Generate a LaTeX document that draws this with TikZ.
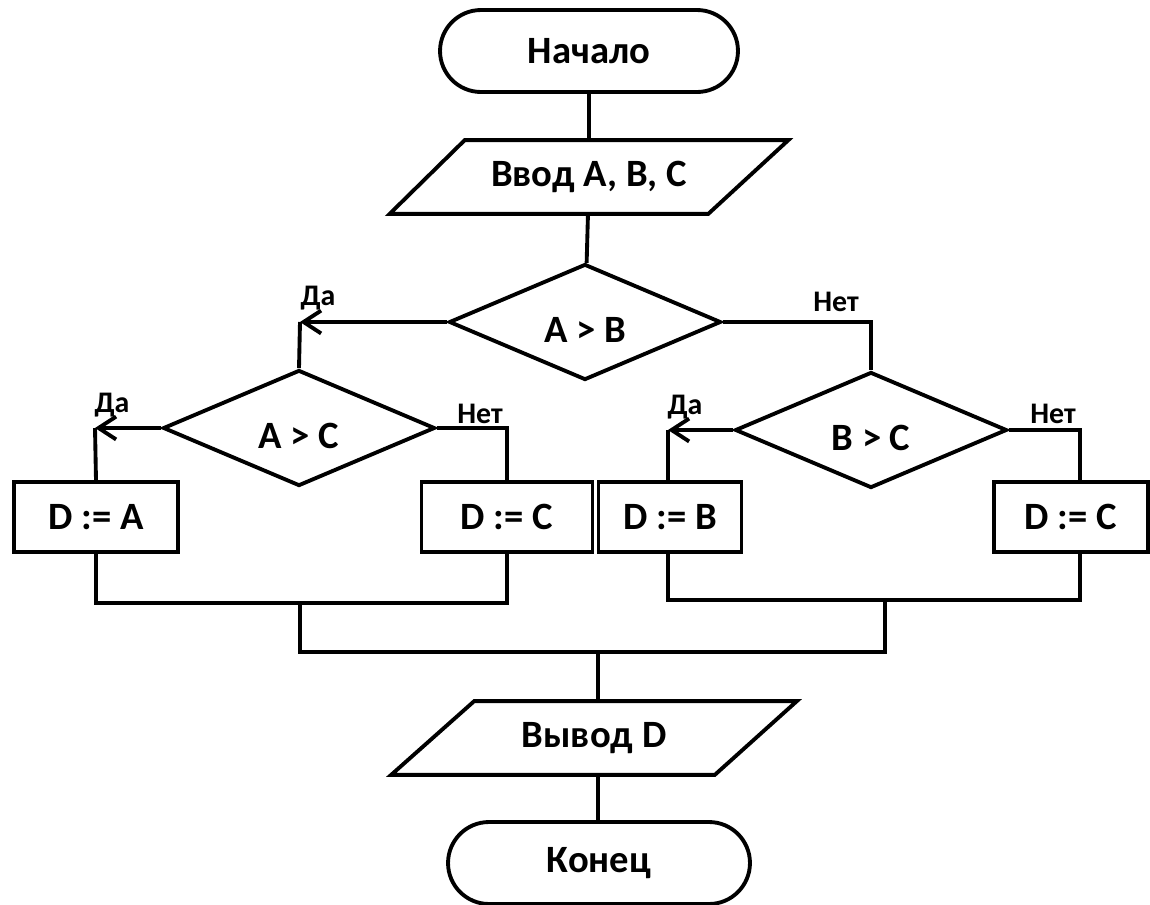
\documentclass[tikz,border=0pt]{standalone}
\usepackage{fontspec}
\setmainfont{Carlito}
\usepackage{tikz}
\usetikzlibrary{shapes.geometric,shapes.misc,arrows.meta,positioning}

\tikzset{
  flowline/.style={line width=2.2pt},
  yesline/.style={flowline,-{Straight Barb[length=10pt,width=13pt,line width=2.2pt]}},
  terminal/.style={draw,flowline,rounded rectangle,minimum width=5.96cm,minimum height=1.64cm,inner sep=0pt,font=\fontsize{22}{26}\bfseries},
  iobox/.style={rectangle,minimum height=1.46cm,inner sep=0pt,font=\fontsize{22}{26}\bfseries},
  decision/.style={draw,flowline,diamond,aspect=2.3,minimum width=5.44cm,minimum height=2.32cm,inner sep=0pt,text height=0.8cm,text depth=0pt,font=\fontsize{22}{26}\bfseries},
  process/.style={draw,flowline,rectangle,minimum height=1.4cm,inner sep=0pt,font=\fontsize{22}{26}\bfseries},
  branchlabel/.style={font=\fontsize{17}{19}\bfseries,inner sep=0pt}
}

\begin{document}
\begin{tikzpicture}[x=0.02cm,y=-0.02cm]
  \useasboundingbox (0,0) rectangle (1150,904);

  % Start and input
  \node[terminal] (start) at (589,51) {Начало};
  \node[iobox,minimum width=7.96cm] (input) at (589,177) {Ввод A, B, C};
  \draw[flowline,line join=miter] ([xshift=1.5cm]input.north west) -- (input.north east)
    -- ([xshift=-1.6cm]input.south east) -- (input.south west) -- cycle;

  % Decisions
  \node[decision] (cmpAB) at (585,322) {A > B};
  \node[decision] (cmpAC) at (299,428) {A > C};
  \node[decision] (cmpBC) at (871,430) {B > C};

  % Assignments
  \node[process,minimum width=3.28cm] (setA) at (96,517) {D := A};
  \node[process,minimum width=3.42cm] (setCleft) at (507,517) {D := C};
  \node[process,minimum width=2.86cm] (setB) at (670,517) {D := B};
  \node[process,minimum width=3.08cm] (setCright) at (1071,517) {D := C};

  % Output and end
  \node[iobox,minimum width=8.1cm] (output) at (594,738) {Вывод D};
  \draw[flowline,line join=miter] ([xshift=1.66cm]output.north west) -- (output.north east)
    -- ([xshift=-1.64cm]output.south east) -- (output.south west) -- cycle;
  \node[terminal,minimum width=6.04cm] (stop) at (599,863) {Конец};

  % Branch corners
  \coordinate (yesAB) at (300,322);
  \coordinate (noAB) at (871,322);
  \coordinate (yesAC) at (95,428);
  \coordinate (noAC) at (507,428);
  \coordinate (yesBC) at (668,430);
  \coordinate (noBC) at (1080,430);

  % Merge points
  \coordinate (joinL) at (300,603);
  \coordinate (joinR) at (885,600);
  \coordinate (joinM) at (598,652);

  % Main flow
  \draw[flowline] (start) -- (input);
  \draw[flowline] (input) -- (cmpAB);

  % A > B
  \draw[yesline] (cmpAB.west) -- (yesAB);
  \draw[flowline] (yesAB) -- (cmpAC.north);
  \draw[flowline] (cmpAB.east) -- (noAB) -- (cmpBC.north);

  % A > C
  \draw[yesline] (cmpAC.west) -- (yesAC);
  \draw[flowline] (yesAC) -- (setA.north);
  \draw[flowline] (cmpAC.east) -- (noAC) -- (setCleft.north);

  % B > C
  \draw[yesline] (cmpBC.west) -- (yesBC);
  \draw[flowline] (yesBC) -- (yesBC |- setB.north);
  \draw[flowline] (cmpBC.east) -- (noBC) -- (noBC |- setCright.north);

  % Joining branches
  \draw[flowline] (setA.south) -- (setA.south |- joinL) -- (setCleft.south |- joinL) -- (setCleft.south);
  \draw[flowline] (yesBC |- setB.south) -- (yesBC |- joinR) -- (noBC |- joinR) -- (noBC |- setCright.south);
  \draw[flowline] (joinL) -- (joinL |- joinM) -- (joinR |- joinM) -- (joinR);
  \draw[flowline] (joinM) -- (joinM |- output.north);
  \draw[flowline] (joinM |- output.south) -- (joinM |- stop.north);

  % Branch labels
  \node[branchlabel] (labYesAB) at (318,298) {Да};
  \node[branchlabel] (labNoAB) at (836,302) {Нет};
  \node[branchlabel] (labYesAC) at (112,405) {Да};
  \node[branchlabel] (labNoAC) at (480,414) {Нет};
  \node[branchlabel] (labYesBC) at (685,407) {Да};
  \node[branchlabel] (labNoBC) at (1053,414) {Нет};
\end{tikzpicture}
\end{document}
